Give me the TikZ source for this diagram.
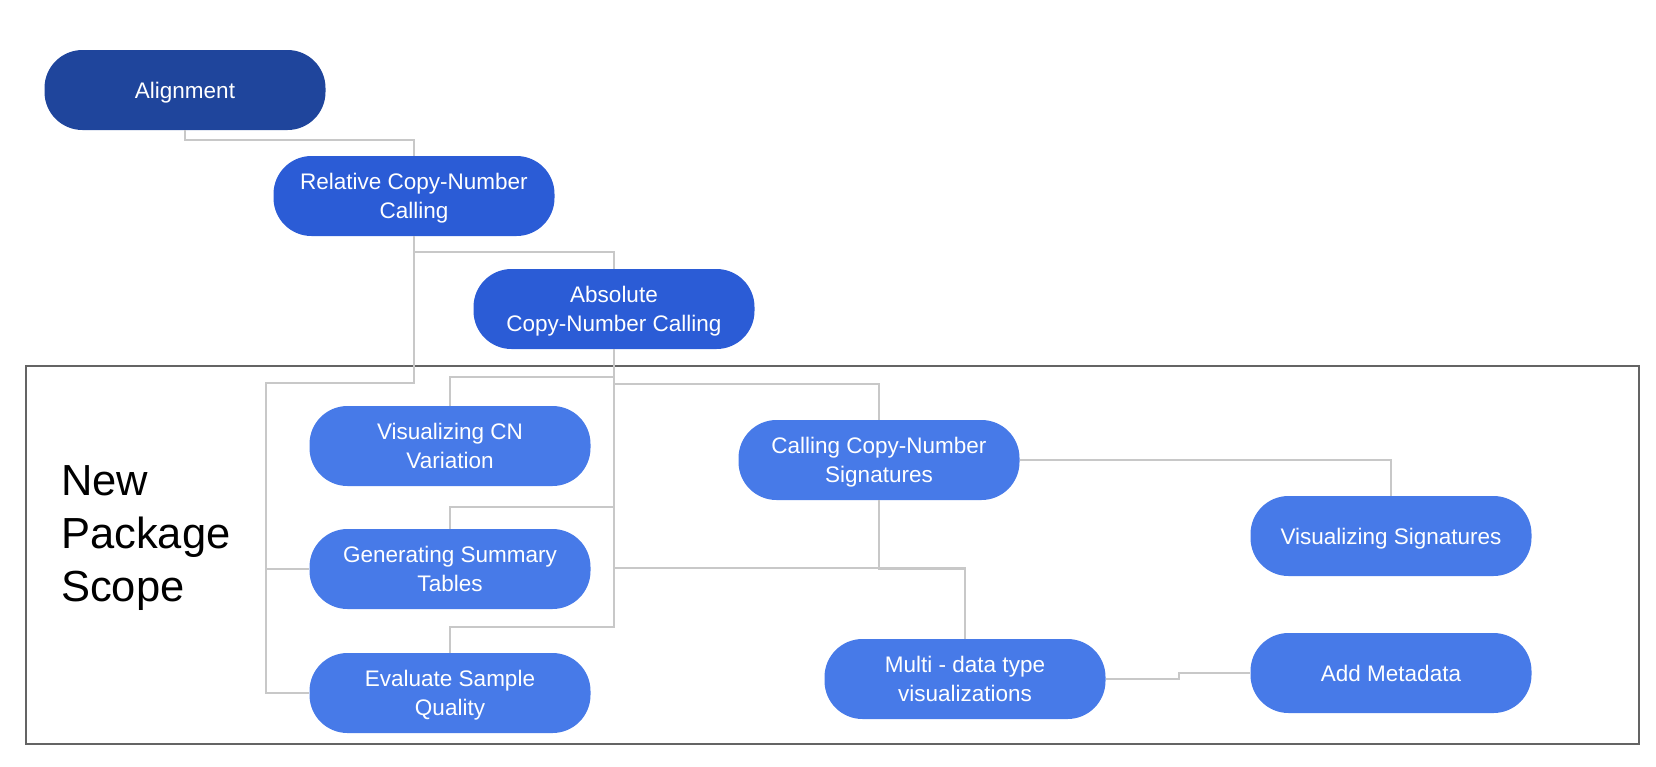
\documentclass[tikz,border=0pt]{standalone}
\usepackage{fontspec}
\setmainfont{Liberation Sans}
\definecolor{cnnavy}{RGB}{31,69,156}
\definecolor{cnblue}{RGB}{43,92,214}
\definecolor{cnsky}{RGB}{71,122,232}
\definecolor{cngrey}{RGB}{200,200,200}
\definecolor{cnframe}{RGB}{100,100,100}
\usetikzlibrary{positioning}

\begin{document}
\begin{tikzpicture}[x=1pt,y=-1pt,
  pill/.style={rounded corners=38pt,minimum width=281pt,minimum height=80pt,inner sep=0pt,
    text depth=0pt,text=white,align=center,font=\fontsize{22.5}{28.5}\selectfont},
  rootstep/.style={pill,fill=cnnavy},
  callstep/.style={pill,fill=cnblue},
  taskstep/.style={pill,fill=cnsky},
  conn/.style={draw=cngrey,line width=2pt},
  scopebox/.style={draw=cnframe,line width=1.6pt,minimum width=1613pt,minimum height=378pt,inner sep=0pt}]
  \useasboundingbox (0,0) rectangle (1656,766);
  % Package scope frame
  \node[scopebox] (scope) at (832.5,555) {};
  \node[font=\fontsize{43.5}{53}\selectfont,align=left,anchor=north west,inner sep=0pt] (scopelabel) at (61,465) {New\\Package\\Scope};
  % Calling steps
  \node[rootstep] (align) at (185,90) {Alignment};
  \node[callstep] (relcn) at (414,196) {Relative Copy-Number\\Calling};
  \node[callstep] (abscn) at (614,309) {Absolute\\Copy-Number Calling};
  % Package tasks
  \node[taskstep] (viscn) at (450,446) {Visualizing CN\\Variation};
  \node[taskstep] (sumtab) at (450,569) {Generating Summary\\Tables};
  \node[taskstep] (qual) at (450,693) {Evaluate Sample\\Quality};
  \node[taskstep] (sigcall) at (879,460) {Calling Copy-Number\\Signatures};
  \node[taskstep] (vissig) at (1391,536) {Visualizing Signatures};
  \node[taskstep] (multi) at (965,679) {Multi - data type\\visualizations};
  \node[taskstep] (meta) at (1391,673) {Add Metadata};
  % Connections
  \coordinate (lbus) at (266,383);
  \draw[conn] (align.south) -- ++(0,10) -| (relcn.north);
  \draw[conn] (relcn.south) -- ++(0,16) -| (abscn.north);
  \draw[conn] (relcn.south) |- (lbus) |- (qual.west);
  \draw[conn] (lbus) |- (sumtab.west);
  \draw[conn] (abscn.south) -- ++(0,28) -| (viscn.north);
  \draw[conn] (abscn.south) -- ++(0,35) -| (sigcall.north);
  \draw[conn] (abscn.south) -- ++(0,158) -| (sumtab.north);
  \draw[conn] (abscn.south) -- ++(0,278) -| (qual.north);
  \draw[conn] (abscn.south) -- ++(0,219) -| (multi.north);
  \draw[conn] (sigcall.south) -- ++(0,69) -| (multi.north);
  \draw[conn] (sigcall.east) -| (vissig.north);
  \draw[conn] (multi.east) -- ++(73,0) |- (meta.west);
\end{tikzpicture}
\end{document}
